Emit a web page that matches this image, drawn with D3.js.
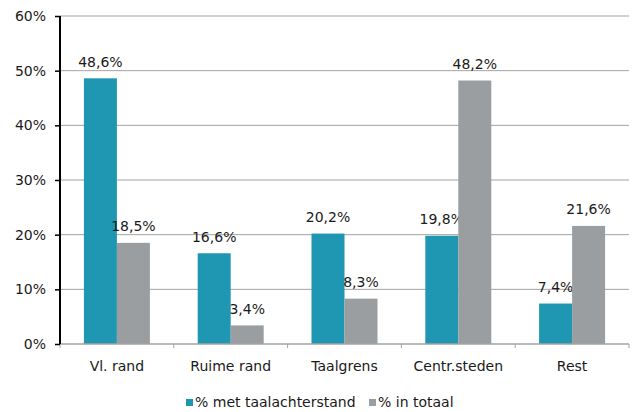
<!DOCTYPE html>
<html>
<head>
<meta charset="utf-8">
<script src="https://cdn.jsdelivr.net/npm/d3@7"></script>
<style>
  body { margin: 0; background: #fff; }
  text { font-family: "DejaVu Sans", sans-serif; fill: #1a1a1a; }
</style>
</head>
<body>
<svg id="chart" width="634" height="412"></svg>
<script>
// data
var categories = ['Vl. rand', 'Ruime rand', 'Taalgrens', 'Centr.steden', 'Rest'];
var seriesNames = ['% met taalachterstand', '% in totaal'];
var taalachterstand = [48.6, 16.6, 20.2, 19.8, 7.4];
var totaal = [18.5, 3.4, 8.3, 48.2, 21.6];
var yTicks = [0, 10, 20, 30, 40, 50, 60];
var colors = ['#1f97b2', '#9b9ea0'];

var svg = d3.select('#chart');
var m = { left: 60, right: 5, top: 16, bottom: 68 },
	w = 634 - m.left - m.right,
	h = 412 - m.top - m.bottom;

var g = svg.append('g').attr('transform', 'translate(' + m.left + ',' + m.top + ')');

var x = d3.scaleBand().domain(categories).range([0, w]);
var y = d3.scaleLinear().domain([0, 60]).range([h, 0]);
var fmt = function(v) { return d3.format('.1f')(v).replace('.', ',') + '%'; };

// gridlines
g.selectAll('.grid').data(yTicks.slice(1)).enter().append('line')
	.attr('x1', 0).attr('x2', w)
	.attr('y1', function(d) { return y(d); }).attr('y2', function(d) { return y(d); })
	.attr('stroke', '#a3a3a3').attr('stroke-width', 1);

// bars
var barW = 33;
var series = [taalachterstand, totaal];
series.forEach(function(vals, s) {
	var bars = g.selectAll('.bar' + s).data(vals).enter();
	bars.append('rect')
		.attr('x', function(d, i) { return x(categories[i]) + x.bandwidth() / 2 - barW + s * barW; })
		.attr('y', function(d) { return y(d); })
		.attr('width', barW)
		.attr('height', function(d) { return h - y(d); })
		.attr('fill', colors[s]);
	bars.append('text')
		.attr('x', function(d, i) { return x(categories[i]) + x.bandwidth() / 2 - barW / 2 + s * barW; })
		.attr('y', function(d) { return y(d) - 11.5; })
		.attr('text-anchor', 'middle')
		.style('font-size', '14px')
		.text(fmt);
});

// x axis
var xAxis = g.append('g').attr('transform', 'translate(0,' + h + ')');
xAxis.append('line').attr('x1', 0).attr('x2', w).attr('stroke', '#a3a3a3').attr('stroke-width', 1.5);
var bounds = categories.map(function(c) { return x(c); }).concat([w]);
xAxis.selectAll('.xt').data(bounds).enter().append('line')
	.attr('x1', function(d) { return d; }).attr('x2', function(d) { return d; })
	.attr('y1', 0).attr('y2', 4)
	.attr('stroke', '#a3a3a3').attr('stroke-width', 1);
xAxis.selectAll('.xl').data(categories).enter().append('text')
	.attr('x', function(d) { return x(d) + x.bandwidth() / 2; })
	.attr('y', 27)
	.attr('text-anchor', 'middle')
	.style('font-size', '14px')
	.text(function(d) { return d; });

// y axis
var yAxis = g.append('g')
	.call(d3.axisLeft(y).tickValues(yTicks).tickSize(5).tickPadding(9).tickFormat(function(d) { return d + '%'; }));
yAxis.select('.domain').attr('stroke', '#000').attr('stroke-width', 2).attr('d', 'M0,' + h + 'V0');
yAxis.selectAll('.tick line').attr('stroke', '#000').attr('stroke-width', 1.5);
yAxis.selectAll('.tick text').style('font-size', '14px').style('font-family', '"DejaVu Sans", sans-serif').attr('fill', '#1a1a1a');

// legend
var legend = svg.append('g').attr('transform', 'translate(186,407)');
var lx = [0, 183];
seriesNames.forEach(function(name, i) {
	legend.append('rect').attr('x', lx[i]).attr('y', -8).attr('width', 7).attr('height', 7).attr('fill', colors[i]);
	legend.append('text').attr('x', lx[i] + 9).attr('y', 0).style('font-size', '14px').text(name);
});
</script>
</body>
</html>
